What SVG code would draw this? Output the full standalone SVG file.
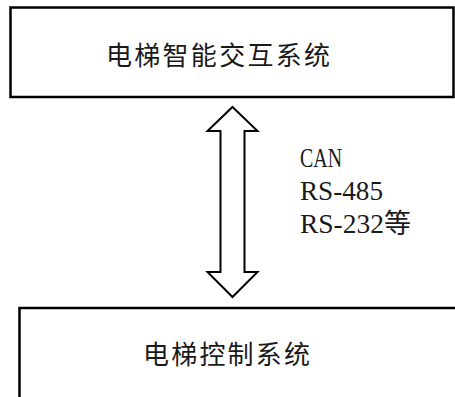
<svg xmlns="http://www.w3.org/2000/svg" width="455" height="397" viewBox="0 0 455 397">
  <style>
    .box { fill: #ffffff; stroke: #000000; stroke-width: 2.5; }
    .cjk { font-family: "Noto Sans CJK SC", "Noto Sans", sans-serif; font-size: 26px; fill: #1a1a1a; }
    .lbl { font-family: "Liberation Serif", "Noto Sans CJK SC", serif; font-size: 28px; fill: #1a1a1a; }
    .arrow { fill: #ffffff; stroke: #000000; stroke-width: 2; stroke-linejoin: miter; }
  </style>
  <rect width="455" height="397" fill="#ffffff"/>
  <g id="node-top">
    <rect class="box" x="10.5" y="7.5" width="443" height="89.5"/>
    <text class="cjk" x="106" y="65" textLength="224" lengthAdjust="spacing">电梯智能交互系统</text>
  </g>
  <g id="node-bottom">
    <path class="box" d="M19.5 400 V308 H460"/>
    <text class="cjk" x="143" y="364" textLength="167" lengthAdjust="spacing">电梯控制系统</text>
  </g>
  <g id="connectors">
    <path class="arrow" d="M232.5 107 L257.5 131 H244.5 V272 H257.5 L232.5 297 L207.5 272 H220.5 V131 H207.5 Z"/>
    <text class="lbl" x="300" y="167" textLength="42" lengthAdjust="spacingAndGlyphs">CAN</text>
    <text class="lbl" x="300" y="200" textLength="83" lengthAdjust="spacingAndGlyphs">RS-485</text>
    <text class="lbl" x="300" y="233"><tspan textLength="84" lengthAdjust="spacingAndGlyphs">RS-232</tspan><tspan font-family="Noto Sans CJK SC, sans-serif" font-size="27">等</tspan></text>
  </g>
</svg>
